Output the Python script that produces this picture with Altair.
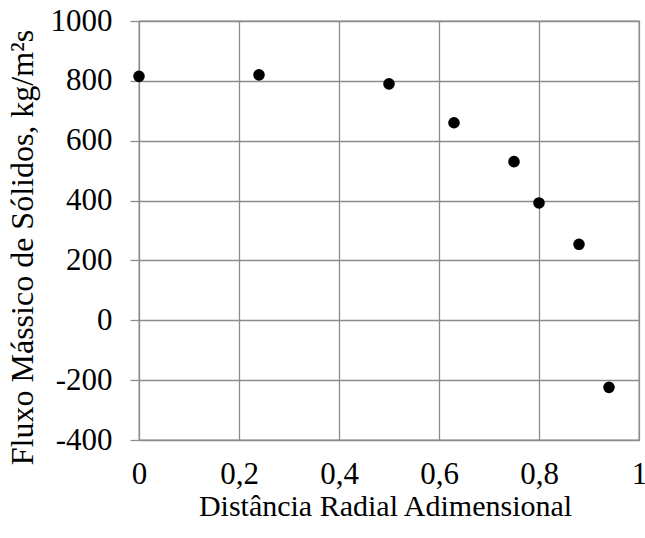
import altair as alt
import pandas as pd

x_vals = [0.0, 0.24, 0.50, 0.63, 0.75, 0.80, 0.88, 0.94]
y_vals = [815, 820, 790, 660, 530, 392, 254, -224]
x_ticks = [0, 0.2, 0.4, 0.6, 0.8, 1.0]
y_ticks = [-400, -200, 0, 200, 400, 600, 800, 1000]

df = pd.DataFrame({"x": x_vals, "y": y_vals})

FONT = "Liberation Serif"
GRID = "#8c8c8c"

chart = alt.Chart(df).mark_circle(size=135, color="black", opacity=1).encode(
    x=alt.X("x:Q",
            scale=alt.Scale(domain=[0, 1], nice=False, zero=False),
            axis=alt.Axis(title="Distância Radial Adimensional",
                          values=x_ticks,
                          labelExpr="replace('' + datum.value, '.', ',')",
                          grid=True, gridColor=GRID, gridWidth=1.3, gridOpacity=1,
                          domain=False, ticks=False,
                          labelFont=FONT, labelFontSize=31, labelColor="black",
                          labelPadding=19, labelFlush=False,
                          titleFont=FONT, titleFontSize=30, titleFontWeight="normal",
                          titleColor="black", titlePadding=2, titleX=246)),
    y=alt.Y("y:Q",
            scale=alt.Scale(domain=[-400, 1000], nice=False, zero=False),
            axis=alt.Axis(title="Fluxo Mássico de Sólidos, kg/m²s",
                          values=y_ticks,
                          labelExpr="'' + datum.value",
                          grid=True, gridColor=GRID, gridWidth=1.3, gridOpacity=1,
                          domain=False, ticks=True, tickSize=9, tickColor=GRID, tickWidth=1.3,
                          labelFont=FONT, labelFontSize=31, labelColor="black",
                          labelPadding=18, labelFlush=False,
                          titleFont=FONT, titleFontSize=32, titleFontWeight="normal",
                          titleColor="black", titlePadding=11, titleY=226)),
).properties(
    width=500, height=419,
    autosize=alt.AutoSizeParams(type="none"),
    padding={"left": 139, "top": 21, "right": 6, "bottom": 98},
).configure(
    background="white", font=FONT,
).configure_view(
    stroke=GRID, strokeWidth=1.3
)

chart.save("out.html", embed_options={"renderer": "svg", "actions": False})
